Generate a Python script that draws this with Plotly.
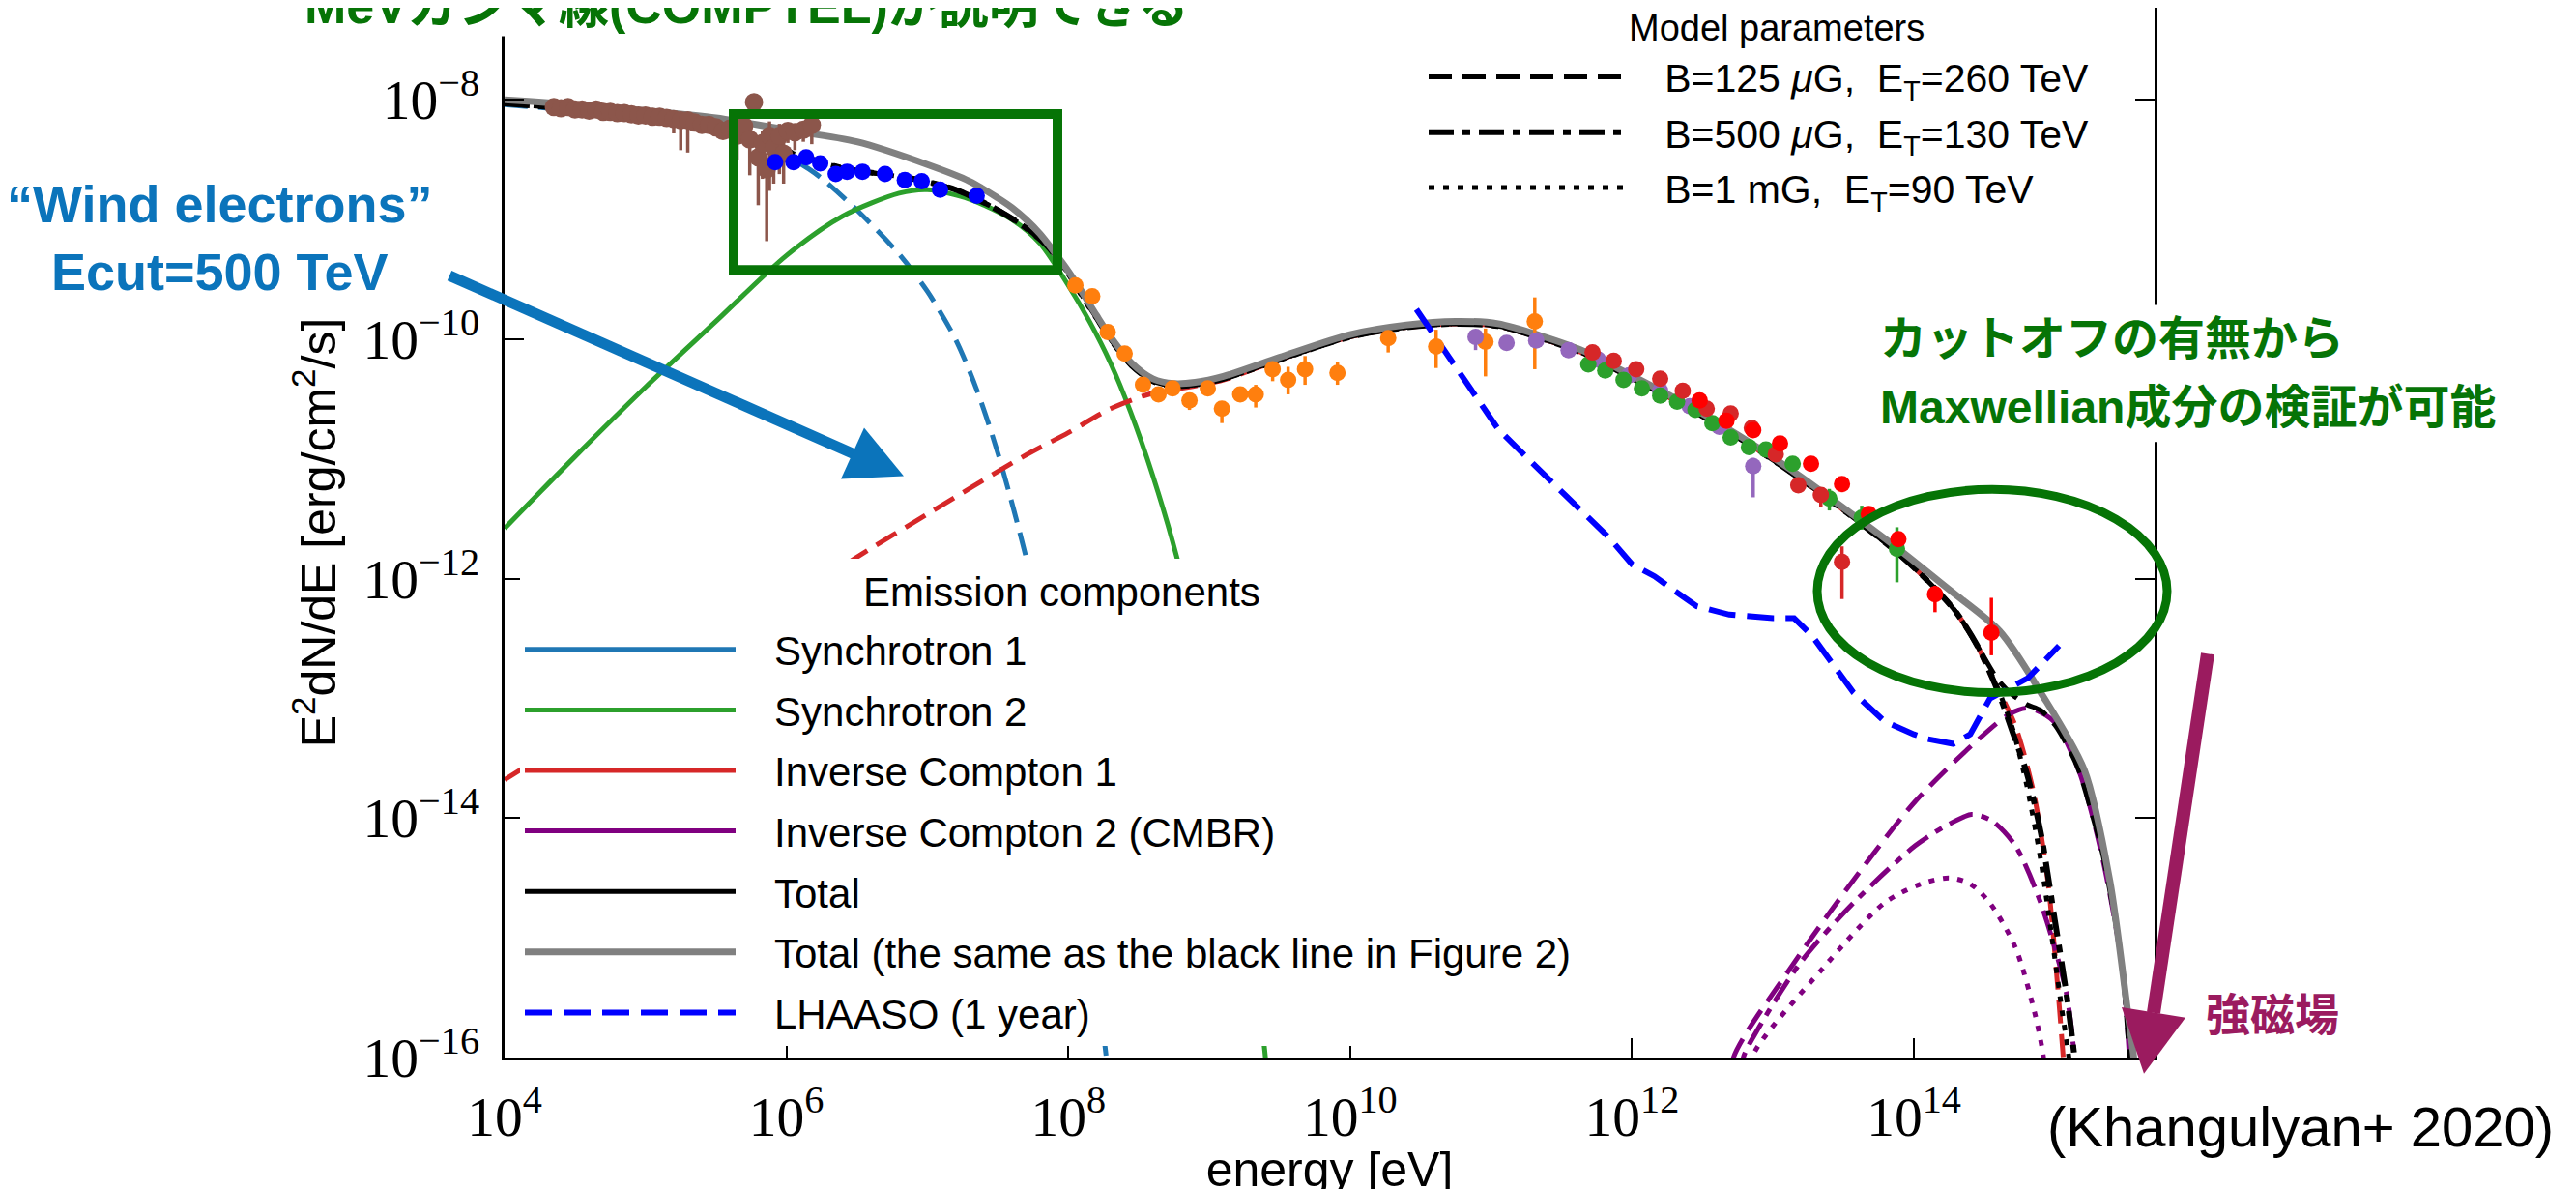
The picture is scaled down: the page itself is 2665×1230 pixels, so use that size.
import plotly.graph_objects as go

W, H = 2665, 1230
PL, PR, PT, PB = 514, 2221, 0, 1105   # plot-area pixel box

# ---------------- model curves (log10 E [eV], log10 E^2dN/dE) ----------------
gray_logE = [4.0, 4.5, 5.0, 5.5, 6.0, 6.5, 7.0, 7.3, 7.5, 7.6, 7.7, 7.8, 7.9, 8.0, 8.1, 8.2, 8.3, 8.45, 8.6,
             8.75, 8.9, 9.1, 9.5, 10.0, 10.4, 10.75, 11.05, 11.35, 11.66, 11.96, 12.3, 12.6, 12.9, 13.2, 13.56,
             13.9, 14.26, 14.61, 14.9, 15.21, 15.39, 15.52, 15.56, 15.58]
gray_logF = [-8.00, -8.04, -8.09, -8.15, -8.25, -8.35, -8.54, -8.68, -8.82, -8.90, -9.00, -9.12, -9.27, -9.43,
             -9.61, -9.80, -9.98, -10.20, -10.33, -10.37, -10.36, -10.31, -10.15, -9.96, -9.88, -9.85, -9.87,
             -9.97, -10.10, -10.28, -10.49, -10.69, -10.91, -11.15, -11.46, -11.76, -12.10, -12.44, -12.95,
             -13.6, -14.52, -15.64, -16.0, -16.3]

tot_logE = [4.0, 4.5, 5.0, 5.5, 5.8, 6.0, 6.4, 6.9, 7.2, 7.5, 7.7, 7.85, 8.0, 8.1, 8.2, 8.3, 8.45, 8.6, 8.75,
            8.9, 9.1, 9.5, 10.0, 10.4, 10.75, 11.05, 11.35, 11.66, 11.96, 12.3, 12.6, 12.9, 13.2, 13.56, 13.9,
            14.1, 14.3, 14.45]
tot_logF = [-8.03, -8.08, -8.15, -8.25, -8.36, -8.43, -8.57, -8.66, -8.75, -8.92, -9.07, -9.22, -9.45, -9.64,
            -9.82, -10.00, -10.22, -10.35, -10.39, -10.38, -10.33, -10.17, -9.98, -9.90, -9.87, -9.89, -9.99,
            -10.12, -10.30, -10.51, -10.71, -10.93, -11.17, -11.48, -11.80, -12.02, -12.28, -12.56]
tail125_logE = [14.6, 14.7, 14.8, 14.9, 15.0, 15.1, 15.17, 15.26, 15.34, 15.42, 15.48, 15.53, 15.55]
tail125_logF = [-12.85, -12.97, -13.05, -13.10, -13.22, -13.42, -13.6, -13.95, -14.3, -14.8, -15.26, -16.0, -16.3]
tail500_logE = [14.6, 14.7, 14.8, 14.9, 15.0, 15.08, 15.14, 15.16]
tail500_logF = [-12.95, -13.28, -13.62, -14.12, -14.85, -15.45, -16.0, -16.3]
tail1mG_logE = [14.6, 14.7, 14.8, 14.9, 14.98, 15.05, 15.1, 15.12]
tail1mG_logF = [-12.93, -13.25, -13.72, -14.35, -15.0, -15.6, -16.0, -16.3]

sync1_logE = [4.0, 4.5, 5.0, 5.5, 5.8, 6.0, 6.2, 6.5, 6.8, 7.0, 7.2, 7.35, 7.5, 7.7, 7.9, 8.1, 8.26, 8.3]
sync1_logF = [-8.04, -8.09, -8.16, -8.27, -8.38, -8.47, -8.61, -8.92, -9.29, -9.60, -10.0, -10.42, -10.95,
              -11.82, -12.9, -14.3, -15.9, -16.3]

sync2_logE = [4.0, 4.5, 5.0, 5.5, 6.0, 6.4, 6.8, 7.0, 7.3, 7.6, 7.8, 8.0, 8.15, 8.3, 8.44, 8.6, 8.77, 9.0,
              9.2, 9.39, 9.42]
sync2_logF = [-11.58, -10.98, -10.40, -9.85, -9.30, -8.97, -8.78, -8.75, -8.83, -9.0, -9.2, -9.55, -9.85,
              -10.2, -10.6, -11.14, -11.82, -13.0, -14.3, -15.9, -16.3]

ic1_logE = [4.0, 5.0, 6.0, 6.5, 7.0, 7.68, 8.0, 8.3, 8.6, 8.9, 9.1, 9.5, 10.0, 10.4, 10.75, 11.05, 11.35,
            11.66, 11.96, 12.3, 12.6, 12.9, 13.2, 13.56, 13.9, 14.1, 14.3, 14.45, 14.54, 14.72, 14.85, 14.95,
            15.01, 15.06, 15.08]
ic1_logF = [-13.68, -12.94, -12.2, -11.82, -11.46, -10.98, -10.78, -10.58, -10.45, -10.39, -10.34, -10.17,
            -9.98, -9.90, -9.87, -9.89, -9.99, -10.12, -10.30, -10.51, -10.71, -10.93, -11.17, -11.48, -11.80,
            -12.02, -12.28, -12.56, -12.79, -13.23, -13.79, -14.52, -15.26, -16.0, -16.3]

ic2_125_logE = [12.7, 12.72, 13.12, 13.57, 14.01, 14.46, 14.68, 14.81, 14.99, 15.17, 15.34, 15.48, 15.53, 15.55]
ic2_125_logF = [-16.3, -16.0, -15.26, -14.52, -13.86, -13.34, -13.13, -13.08, -13.19, -13.6, -14.34, -15.26,
                -16.0, -16.3]
ic2_500_logE = [12.77, 12.79, 12.9, 13.2, 13.57, 14.01, 14.25, 14.41, 14.55, 14.72, 14.9, 15.08, 15.14, 15.16]
ic2_500_logF = [-16.3, -16.0, -15.75, -15.2, -14.71, -14.23, -14.05, -13.97, -14.02, -14.23, -14.71, -15.45,
                -16.0, -16.3]
ic2_1mG_logE = [12.83, 12.85, 13.35, 13.79, 14.05, 14.25, 14.4, 14.54, 14.72, 14.86, 14.92, 14.94]
ic2_1mG_logF = [-16.3, -16.0, -15.26, -14.71, -14.55, -14.5, -14.55, -14.71, -15.08, -15.64, -16.0, -16.3]

lhaaso_logE = [10.47, 10.73, 11.05, 11.35, 11.66, 11.84, 12.0, 12.16, 12.3, 12.46, 12.69, 13.0, 13.15, 13.28,
               13.57, 13.79, 14.0, 14.1, 14.28, 14.4, 14.54, 14.81, 15.03]
lhaaso_logF = [-9.75, -10.2, -10.75, -11.1, -11.45, -11.66, -11.88, -11.98, -12.1, -12.23, -12.3, -12.33,
               -12.33, -12.48, -12.95, -13.19, -13.3, -13.34, -13.38, -13.3, -13.0, -12.83, -12.56]

# ---------------- measurements (log10 E, log10 flux, err down / up in dex) ----------------
brown_logE = [4.35, 4.40, 4.45, 4.50, 4.55, 4.60, 4.65, 4.70, 4.75, 4.80, 4.85, 4.90, 4.95, 5.00, 5.05, 5.10,
              5.15, 5.20, 5.25, 5.30, 5.35, 5.40, 5.45, 5.50, 5.55, 5.60, 5.65, 5.70, 5.74, 5.77, 5.80, 5.83,
              5.86, 5.88, 5.91, 5.95, 5.98, 6.01, 6.06, 6.12, 6.18]
brown_logF = [-8.06, -8.07, -8.06, -8.08, -8.08, -8.09, -8.08, -8.10, -8.10, -8.11, -8.11, -8.12, -8.13, -8.13,
              -8.14, -8.14, -8.15, -8.16, -8.17, -8.17, -8.19, -8.21, -8.21, -8.23, -8.26, -8.24, -8.30, -8.22,
              -8.33, -8.02, -8.48, -8.36, -8.58, -8.30, -8.40, -8.30, -8.45, -8.26, -8.27, -8.25, -8.21]
brown_lo = [0.03, 0.03, 0.03, 0.03, 0.03, 0.03, 0.03, 0.03, 0.03, 0.03, 0.03, 0.03, 0.03, 0.03, 0.03, 0.03,
            0.03, 0.12, 0.25, 0.27, 0.05, 0.05, 0.05, 0.05, 0.05, 0.05, 0.2, 0.05, 0.3, 0.05, 0.4, 0.3, 0.6,
            0.46, 0.3, 0.32, 0.25, 0.1, 0.15, 0.1, 0.16]
brown_hi = [0.03] * 29 + [0.05, 0.1, 0.1, 0.1, 0.12, 0.1, 0.1, 0.1, 0.03, 0.03, 0.03, 0.03]

blue_logE = [5.92, 6.05, 6.14, 6.24, 6.35, 6.43, 6.54, 6.70, 6.84, 6.96, 7.09, 7.35]
blue_logF = [-8.52, -8.52, -8.48, -8.53, -8.62, -8.60, -8.60, -8.62, -8.67, -8.68, -8.75, -8.80]

orange_logE = [8.05, 8.17, 8.28, 8.40, 8.53, 8.64, 8.74, 8.86, 8.99, 9.09, 9.22, 9.33, 9.45, 9.56, 9.68, 9.91,
               10.27, 10.61, 10.96, 11.31]
orange_logF = [-9.55, -9.64, -9.94, -10.12, -10.38, -10.46, -10.41, -10.51, -10.41, -10.58, -10.46, -10.46,
               -10.25, -10.34, -10.25, -10.28, -9.99, -10.06, -10.02, -9.85]
orange_lo = [0.0, 0.0, 0.0, 0.0, 0.06, 0.05, 0.03, 0.08, 0.0, 0.12, 0.06, 0.11, 0.1, 0.12, 0.13, 0.1, 0.12,
             0.18, 0.29, 0.4]
orange_hi = [0.0, 0.0, 0.0, 0.0, 0.0, 0.0, 0.0, 0.0, 0.0, 0.0, 0.03, 0.08, 0.03, 0.11, 0.11, 0.09, 0.02, 0.14,
             0.11, 0.2]

purple_logE = [10.89, 11.11, 11.32, 11.55, 11.76, 11.98, 12.20, 12.41, 12.62, 12.86]
purple_logF = [-9.98, -10.03, -10.01, -10.09, -10.17, -10.30, -10.43, -10.56, -10.73, -11.06]
purple_lo = [0.11, 0, 0, 0, 0, 0, 0, 0, 0, 0.26]
purple_hi = [0, 0, 0, 0, 0, 0, 0, 0, 0, 0.07]

green_logE = [11.69, 11.81, 11.94, 12.07, 12.20, 12.32, 12.45, 12.57, 12.70, 12.83, 12.95, 13.14, 13.40, 13.63,
              13.88]
green_logF = [-10.21, -10.26, -10.34, -10.41, -10.47, -10.52, -10.59, -10.70, -10.82, -10.90, -10.92, -11.04,
              -11.33, -11.49, -11.75]
green_lo = [0, 0, 0, 0, 0, 0, 0, 0, 0, 0, 0, 0, 0.1, 0.1, 0.28]
green_hi = [0, 0, 0, 0, 0, 0, 0, 0, 0, 0, 0, 0, 0.08, 0.1, 0.18]

red_logE = [11.72, 11.87, 12.03, 12.20, 12.36, 12.53, 12.70, 12.85, 13.02, 13.18, 13.34, 13.49]
red_logF = [-10.11, -10.18, -10.25, -10.33, -10.43, -10.58, -10.62, -10.74, -10.96, -11.22, -11.30, -11.86]
red_lo = [0, 0, 0, 0, 0, 0, 0, 0, 0, 0.05, 0.1, 0.31]
red_hi = [0, 0, 0, 0, 0, 0, 0, 0, 0, 0, 0, 0.13]

red2_logE = [12.48, 12.67, 12.86, 13.05, 13.27, 13.49, 13.68, 13.89, 14.15, 14.55]
red2_logF = [-10.51, -10.68, -10.76, -10.87, -11.04, -11.21, -11.46, -11.67, -12.13, -12.45]
red2_lo = [0, 0, 0, 0, 0, 0, 0, 0, 0.15, 0.19]
red2_hi = [0, 0, 0, 0, 0, 0, 0, 0, 0.07, 0.29]

# ---------------- text ----------------
emission_title = "Emission components"
emission_names = ["Synchrotron 1", "Synchrotron 2", "Inverse Compton 1", "Inverse Compton 2 (CMBR)", "Total",
                  "Total (the same as the black line in Figure 2)", "LHAASO (1 year)"]
model_title = "Model parameters"
model_names = ["B=125 <i>μ</i>G,\u00a0 E<sub>T</sub>=260 TeV",
               "B=500 <i>μ</i>G,\u00a0 E<sub>T</sub>=130 TeV",
               "B=1 mG,\u00a0 E<sub>T</sub>=90 TeV"]
PAD = "\u00a0\u00a0\u00a0"   # gap between legend line sample and its label

C_BLUE, C_GREEN, C_RED, C_PURPLE = "#1f77b4", "#2ca02c", "#d62728", "#800080"
C_GRAY = "#808080"
SANS = "Liberation Sans, Arial, sans-serif"
JP = "Liberation Sans, Noto Sans CJK JP, sans-serif"
SERIF = "Liberation Serif, DejaVu Serif, serif"


def lin(v):
    return [10 ** a for a in v]


def errs(f, lo, hi):
    up = [10 ** (a + h) - 10 ** a for a, h in zip(f, hi)]
    dn = [10 ** a - 10 ** (a - l) for a, l in zip(f, lo)]
    return up, dn


fig = go.Figure()


def curve(xl, yl, color, width, dash="solid"):
    fig.add_trace(go.Scatter(x=lin(xl), y=lin(yl), mode="lines",
                             line=dict(color=color, width=width, dash=dash, shape="spline", smoothing=0.8),
                             showlegend=False, hoverinfo="skip"))


DASH = "24px,11px"
DASHDOT = "26px,9px,8px,9px"
DOT = "6px,9px"

curve(sync1_logE, sync1_logF, C_BLUE, 5, DASH)
curve(sync2_logE, sync2_logF, C_GREEN, 5)
curve(ic1_logE, ic1_logF, C_RED, 5, DASH)
curve(ic2_125_logE, ic2_125_logF, C_PURPLE, 5, DASH)
curve(ic2_500_logE, ic2_500_logF, C_PURPLE, 5, DASHDOT)
curve(ic2_1mG_logE, ic2_1mG_logF, C_PURPLE, 5, DOT)

# black totals (three model parameter sets) -> second legend
for tail_e, tail_f, dsh, wd, nm, rk in [(tail125_logE, tail125_logF, DASH, 5, model_names[0], 1),
                                      (tail500_logE, tail500_logF, DASHDOT, 6, model_names[1], 2),
                                      (tail1mG_logE, tail1mG_logF, DOT, 5, model_names[2], 3)]:
    fig.add_trace(go.Scatter(x=lin(tot_logE + tail_e), y=lin(tot_logF + tail_f), mode="lines",
                             line=dict(color="black", width=wd, dash=dsh, shape="spline", smoothing=0.8),
                             name=PAD + nm, legend="legend2", legendrank=rk, legendgroup="m%d" % rk,
                             showlegend=True, hoverinfo="skip"))

# gray total
fig.add_trace(go.Scatter(x=lin(gray_logE), y=lin(gray_logF), mode="lines",
                         line=dict(color=C_GRAY, width=7, shape="spline", smoothing=0.8),
                         name=PAD + emission_names[5], legend="legend", legendrank=6, legendgroup="e6",
                         showlegend=True, hoverinfo="skip"))
# LHAASO sensitivity
fig.add_trace(go.Scatter(x=lin(lhaaso_logE), y=lin(lhaaso_logF), mode="lines",
                         line=dict(color="#0000ff", width=6, dash="28px,12px"),
                         name=PAD + emission_names[6], legend="legend", legendrank=7, legendgroup="e7",
                         showlegend=True, hoverinfo="skip"))

# legend-only samples for the emission components (solid lines)
for i, col in enumerate([C_BLUE, C_GREEN, C_RED, C_PURPLE, "black"]):
    fig.add_trace(go.Scatter(x=[None], y=[None], mode="lines", line=dict(color=col, width=5),
                             name=PAD + emission_names[i], legend="legend", legendrank=i + 1,
                             legendgroup="e%d" % (i + 1), showlegend=True))


def points(xl, yl, color, lo=None, hi=None, size=17):
    kw = {}
    if lo is not None:
        up, dn = errs(yl, lo, hi)
        kw["error_y"] = dict(type="data", symmetric=False, array=up, arrayminus=dn, color=color,
                             thickness=3.5, width=0)
    fig.add_trace(go.Scatter(x=lin(xl), y=lin(yl), mode="markers",
                             marker=dict(color=color, size=size, line=dict(width=0)),
                             showlegend=False, hoverinfo="skip", **kw))


points(brown_logE, brown_logF, "#8c564b", brown_lo, brown_hi, size=19)
points(blue_logE, blue_logF, "#0000ff")
points(orange_logE, orange_logF, "#ff7f0e", orange_lo, orange_hi)
points(purple_logE, purple_logF, "#9467bd", purple_lo, purple_hi)
points(green_logE, green_logF, C_GREEN, green_lo, green_hi)
points(red_logE, red_logF, C_RED, red_lo, red_hi)
points(red2_logE, red2_logF, "#ff0000", red2_lo, red2_hi)


# ---------------- overlay decorations (paper coordinates from pixel positions) ----------------
def px(X):
    return (X - PL) / (PR - PL)


def py(Y):
    return (PB - Y) / (PB - PT)


DKGREEN = "#067406"
BLUE_ANN = "#0b74bb"
MAG = "#9b1b5f"

shapes = [
    dict(type="rect", xref="paper", yref="paper", x0=px(0), x1=px(1400), y0=py(30), y1=py(-5),
         fillcolor="white", line=dict(width=0), layer="above"),
    dict(type="rect", xref="paper", yref="paper", x0=px(1925), x1=px(2625), y0=py(457), y1=py(313),
         fillcolor="white", line=dict(width=0), layer="above"),
    # white band holding the "Emission components" legend title
    dict(type="rect", xref="paper", yref="paper", x0=px(530), x1=px(1640), y0=py(648), y1=py(580),
         fillcolor="white", line=dict(width=0), layer="above"),
    dict(type="rect", xref="paper", yref="paper", x0=px(751), x1=px(1086), y0=py(276), y1=py(112),
         line=dict(color=DKGREEN, width=10), layer="above"),
    dict(type="circle", xref="paper", yref="paper", x0=px(1872), x1=px(2234), y0=py(721), y1=py(507),
         line=dict(color=DKGREEN, width=9), layer="above"),
    dict(type="line", xref="paper", yref="paper", x0=px(457), y0=py(282), x1=px(876), y1=py(470),
         line=dict(color=BLUE_ANN, width=11), layer="above"),
    dict(type="path", xref="paper", yref="paper",
         path="M %f,%f L %f,%f L %f,%f Z" % (px(927), py(493), px(862), py(496), px(886), py(442)),
         fillcolor=BLUE_ANN, line=dict(width=0), layer="above"),
    dict(type="line", xref="paper", yref="paper", x0=px(2276), y0=py(680), x1=px(2220), y1=py(1058),
         line=dict(color=MAG, width=14), layer="above"),
    dict(type="path", xref="paper", yref="paper",
         path="M %f,%f L %f,%f L %f,%f Z" % (px(2210), py(1122), px(2253), py(1063), px(2187), py(1052)),
         fillcolor=MAG, line=dict(width=0), layer="above"),
]

annotations = [
    dict(text="<b>MeVガンマ線(COMPTEL)が説明できる</b>", x=px(305), y=py(-2), xanchor="left", yanchor="middle",
         font=dict(family=JP, size=52, color=DKGREEN)),
    dict(text="<b>“Wind electrons”<br>Ecut=500 TeV</b>", x=px(219), y=py(242), xanchor="center",
         yanchor="middle", align="center", font=dict(family=JP, size=54, color=BLUE_ANN)),
    dict(text="<b>カットオフの有無から</b>", x=px(1935), y=py(349), xanchor="left", yanchor="middle",
         font=dict(family=JP, size=48, color=DKGREEN)),
    dict(text="<b>Maxwellian成分の検証が可能</b>", x=px(1935), y=py(421), xanchor="left", yanchor="middle",
         font=dict(family=JP, size=48, color=DKGREEN)),
    dict(text="<b>強磁場</b>", x=px(2343), y=py(1060), xanchor="center", yanchor="middle",
         font=dict(family=JP, size=46, color=MAG)),
    dict(text="(Khangulyan+ 2020)", x=px(2636), y=py(1178), xanchor="right", yanchor="middle",
         font=dict(family=SANS, size=58, color="black")),
    dict(text=emission_title, x=px(1090), y=py(615), xanchor="center", yanchor="middle",
         font=dict(family=SANS, size=42, color="black")),
    dict(text=model_title, x=px(1830), y=py(21), xanchor="center", yanchor="middle",
         font=dict(family=SANS, size=38, color="black")),
]
for a in annotations:
    a.update(xref="paper", yref="paper", showarrow=False)

axis_common = dict(type="log", dtick=2, exponentformat="power", showgrid=False, zeroline=False,
                   showline=True, linecolor="black", linewidth=2.5, ticks="inside", ticklen=20,
                   tickwidth=2, tickcolor="black",
                   tickfont=dict(family=SERIF, size=46, color="black"))

fig.update_layout(
    width=W, height=H,
    margin=dict(l=PL, r=W - PR, t=PT, b=H - PB, pad=0),
    paper_bgcolor="white", plot_bgcolor="white",
    showlegend=True,
    xaxis=dict(range=[4, 4 + (PR - PL) / 145.8], mirror=False, ticklabelstandoff=12,
               title=dict(text="energy [eV]", font=dict(family=SANS, size=50, color="black"), standoff=16),
               **axis_common),
    yaxis=dict(range=[-16, -8 + 97 / 126], mirror="ticks", ticklabelstandoff=14,
               title=dict(text="E<sup>2</sup>dN/dE [erg/cm<sup>2</sup>/s]",
                          font=dict(family=SANS, size=50, color="black"), standoff=13),
               **axis_common),
    legend=dict(x=px(530), y=py(641), xanchor="left", yanchor="top", bgcolor="white", borderwidth=0,
                font=dict(family=SANS, size=42, color="black"), itemwidth=218, tracegroupgap=5,
                traceorder="grouped"),
    legend2=dict(x=px(1465), y=py(39), xanchor="left", yanchor="top", bgcolor="rgba(0,0,0,0)",
                 borderwidth=0, font=dict(family=SANS, size=41, color="black"), itemwidth=205,
                 tracegroupgap=1, traceorder="grouped"),
    shapes=shapes,
    annotations=annotations,
)

fig.write_html("out.html")
